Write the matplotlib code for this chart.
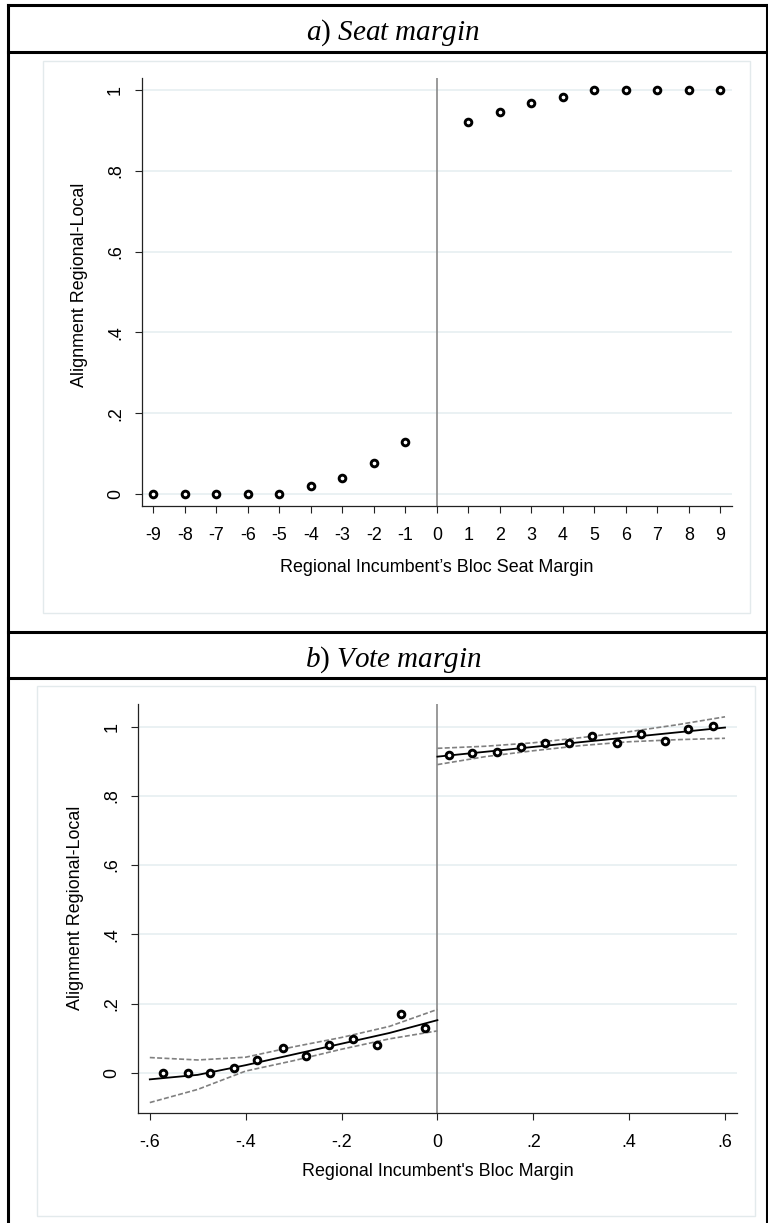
import matplotlib
matplotlib.use("Agg")
import matplotlib.pyplot as plt
from matplotlib.lines import Line2D
from matplotlib.patches import Rectangle

plt.rcParams['font.family'] = ['Liberation Sans', 'DejaVu Sans']
plt.rcParams['mathtext.fontset'] = 'custom'
plt.rcParams['mathtext.it'] = 'Liberation Serif:italic'
plt.rcParams['mathtext.rm'] = 'Liberation Serif'

# ---------------- data ----------------
seat_x = [-9, -8, -7, -6, -5, -4, -3, -2, -1, 1, 2, 3, 4, 5, 6, 7, 8, 9]
seat_y = [0.0, 0.0, 0.0, 0.0, 0.0, 0.021, 0.040, 0.076, 0.129,
          0.920, 0.945, 0.969, 0.982, 1.0, 1.0, 1.0, 1.0, 1.0]
seat_xticks = list(range(-9, 10))

vote_x_left = [-0.573, -0.52, -0.475, -0.424, -0.376, -0.322, -0.275, -0.226, -0.176, -0.125, -0.075, -0.026]
vote_y_left = [0.0, 0.0, 0.0, 0.013, 0.037, 0.072, 0.049, 0.079, 0.097, 0.079, 0.169, 0.128]
vote_x_right = [0.024, 0.072, 0.124, 0.174, 0.224, 0.274, 0.323, 0.375, 0.425, 0.474, 0.523, 0.574]
vote_y_right = [0.918, 0.923, 0.926, 0.941, 0.952, 0.952, 0.972, 0.953, 0.978, 0.958, 0.992, 1.002]

fit_x_left = [-0.6, -0.5, -0.4, -0.3, -0.2, -0.1, 0.0]
fit_left = [-0.019, -0.006, 0.022, 0.053, 0.084, 0.115, 0.152]
ci_hi_left = [0.044, 0.037, 0.045, 0.075, 0.102, 0.134, 0.183]
ci_lo_left = [-0.086, -0.048, 0.005, 0.035, 0.068, 0.098, 0.121]

fit_x_right = [0.0, 0.1, 0.2, 0.3, 0.4, 0.5, 0.6]
fit_right = [0.913, 0.927, 0.941, 0.955, 0.969, 0.983, 0.997]
ci_hi_right = [0.937, 0.943, 0.953, 0.968, 0.985, 1.005, 1.028]
ci_lo_right = [0.890, 0.913, 0.930, 0.945, 0.956, 0.962, 0.966]

y_ticks = [0, 0.2, 0.4, 0.6, 0.8, 1.0]
y_ticklabels = ['0', '.2', '.4', '.6', '.8', '1']
vote_xticks = [-0.6, -0.4, -0.2, 0, 0.2, 0.4, 0.6]
vote_xticklabels = ['-.6', '-.4', '-.2', '0', '.2', '.4', '.6']

title_a = r'$\mathit{a}$) $\mathit{Seat\ margin}$'
title_b = r'$\mathit{b}$) $\mathit{Vote\ margin}$'
ylabel = 'Alignment Regional-Local'
xlabel_a = 'Regional Incumbent\u2019s Bloc Seat Margin'
xlabel_b = "Regional Incumbent's Bloc Margin"

# ---------------- layout ----------------
W, H = 768, 1223
fig = plt.figure(figsize=(W / 100, H / 100), dpi=100)


def fx(x):
    return x / W


def fy(y):
    return 1 - y / H


def add_ax(l, t, r, b):
    return fig.add_axes([fx(l), fy(b), (r - l) / W, (b - t) / H])


FS = 12.9
GRID = '#e6eff1'
BOX = '#e3eaec'

# outer frame lines
for (x0, y0, x1, y1) in [(8, 5, 768, 5), (8, 52, 768, 52), (8, 632, 768, 632),
                         (8, 678, 768, 678), (8, 5, 8, 1223), (766.5, 5, 766.5, 1223)]:
    fig.add_artist(Line2D([fx(x0), fx(x1)], [fy(y0), fy(y1)], color='black', lw=2.2,
                          transform=fig.transFigure, solid_capstyle='projecting'))

# graph region boxes
for (l, t, r, b) in [(43, 61, 750, 613), (37, 686, 755, 1216)]:
    fig.add_artist(Rectangle((fx(l), fy(b)), (r - l) / W, (b - t) / H, transform=fig.transFigure,
                             facecolor='white', edgecolor=BOX, lw=1.0, zorder=0))

fig.text(fx(393), fy(40), title_a, fontsize=21, ha='center', va='baseline', family='Liberation Serif')
fig.text(fx(393), fy(667), title_b, fontsize=21, ha='center', va='baseline', family='Liberation Serif')


def style_axes(ax):
    for s in ['top', 'right']:
        ax.spines[s].set_visible(False)
    for s in ['left', 'bottom']:
        ax.spines[s].set_color('#222222')
        ax.spines[s].set_linewidth(0.9)
    ax.set_axisbelow(True)
    ax.yaxis.grid(True, color=GRID, lw=1.2)
    ax.xaxis.grid(False)
    ax.set_facecolor('none')
    ax.tick_params(axis='both', length=5, width=0.8, color='#222222', labelsize=FS)
    ax.tick_params(axis='x', pad=10.0)
    ax.tick_params(axis='y', pad=14)
    ax.set_yticks(y_ticks)
    ax.set_yticklabels(y_ticklabels)
    for lbl in ax.get_yticklabels():
        lbl.set_rotation(90)
        lbl.set_ha('center')
        lbl.set_va('center')


MK = dict(marker='o', ms=4.8, mfc='white', mec='black', mew=2.1, ls='none', zorder=5)

# ---------------- panel a ----------------
axa = add_ax(142, 78, 732, 506)
style_axes(axa)
axa.set_xlim(-9.36, 9.37)
axa.set_ylim(-0.0297, 1.0297)
axa.set_xticks(seat_xticks)
axa.set_xticklabels([str(v) for v in seat_xticks])
axa.axvline(0, color='#7f7f7f', lw=1.1, zorder=2)
axa.plot(seat_x, seat_y, **MK)
fig.text(fx(79), fy(285), ylabel, rotation=90, ha='center', va='center', fontsize=FS)
fig.text(fx(437), fy(568), xlabel_a, ha='center', va='center', fontsize=FS)

# ---------------- panel b ----------------
axb = add_ax(138.3, 704, 737, 1113.3)
style_axes(axb)
axb.set_xlim(-0.624, 0.625)
axb.set_ylim(-0.117, 1.065)
axb.set_xticks(vote_xticks)
axb.set_xticklabels(vote_xticklabels)
axb.axvline(0, color='#7f7f7f', lw=1.1, zorder=2)
dash = dict(color='#808080', lw=1.2, ls=(0, (3.0, 1.4)), zorder=3)
for xs, fit, hi, lo in [(fit_x_left, fit_left, ci_hi_left, ci_lo_left),
                        (fit_x_right, fit_right, ci_hi_right, ci_lo_right)]:
    axb.plot(xs, hi, **dash)
    axb.plot(xs, lo, **dash)
    axb.plot(xs, fit, color='black', lw=1.3, zorder=4)
axb.plot(vote_x_left, vote_y_left, **MK)
axb.plot(vote_x_right, vote_y_right, **MK)
fig.text(fx(75), fy(908), ylabel, rotation=90, ha='center', va='center', fontsize=FS)
fig.text(fx(437.7), fy(1172), xlabel_b, ha='center', va='center', fontsize=FS)

fig.savefig('out.png', dpi=100)
